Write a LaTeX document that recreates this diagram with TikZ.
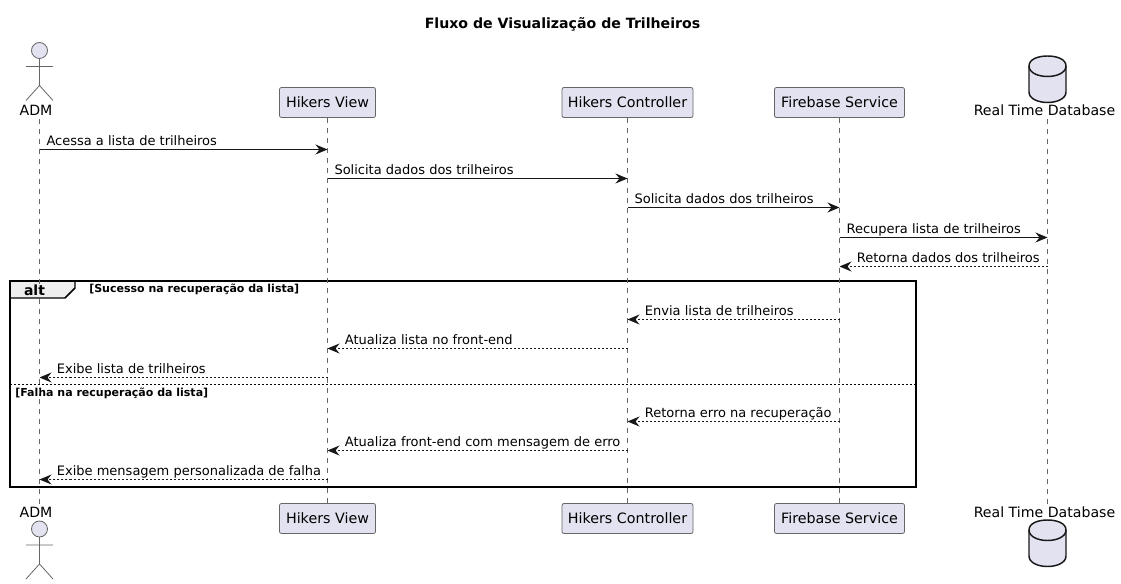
\documentclass[tikz,border=0pt]{standalone}
\usepackage{fontspec}
\setmainfont{DejaVu Sans}
\usetikzlibrary{arrows.meta,positioning}
\definecolor{partfill}{HTML}{E2E2F0}
\definecolor{partline}{HTML}{666666}
\definecolor{tabfill}{HTML}{EEEEEE}
\definecolor{inkline}{HTML}{181818}
\newcommand{\dbdrum}[1]{%
\draw [dbline,shift={(1047.5,#1)}] (-18.5,10) .. controls (-18.5,3) and (-9,0) .. (0,0)
	.. controls (9,0) and (18.5,3) .. (18.5,10) -- (18.5,36) .. controls (18.5,43) and (9,46.5) .. (0,46.5)
	.. controls (-9,46.5) and (-18.5,43) .. (-18.5,36) -- cycle;
\draw [dbrim,shift={(1047.5,#1)}] (-18.5,10) .. controls (-18.5,17) and (-9,20.5) .. (0,20.5)
	.. controls (9,20.5) and (18.5,17) .. (18.5,10);}
\newcommand{\stickman}[1]{%
\draw [manline,fill=partfill] (39.5,#1) circle (8);
\draw [manline] (39.5,#1+8) -- (39.5,#1+35) (26,#1+16) -- (53,#1+16)
	(26,#1+50) -- (39.5,#1+35) -- (53,#1+50);}

\begin{document}
\begin{tikzpicture}
   [x=0.75pt,y=-0.75pt,
	part/.style={rectangle,rounded corners=1.5pt,draw=partline,fill=partfill,line width=0.6pt,
		minimum height=22.5pt,inner sep=0pt,font=\fontsize{10.7}{12}\selectfont,text=black},
	caption/.style={inner sep=0pt,minimum height=12pt,font=\fontsize{10.6}{12}\selectfont,text=black},
	lifeline/.style={draw=partline,line width=0.5pt,dash pattern=on 3.75pt off 3.75pt},
	msg/.style={draw=inkline,line width=0.75pt,-{Stealth[length=9pt,width=7.5pt,inset=3pt]}},
	reply/.style={msg,dash pattern=on 1.5pt off 1.5pt},
	txtright/.style={anchor=base west,xshift=4.9pt,yshift=3.3pt,inner sep=0pt,
		font=\fontsize{9.75}{12}\selectfont,text=black},
	txtleft/.style={txtright,xshift=7.8pt},
	guard/.style={inner sep=0pt,anchor=base west,font=\fontsize{8.25}{10}\selectfont\bfseries,text=black},
	dbline/.style={draw=inkline,fill=partfill,line width=1.1pt},
	dbrim/.style={draw=inkline,line width=1.1pt},
	manline/.style={draw=partline,line width=0.6pt}]
\useasboundingbox (0,0) rectangle (1121,584);

\node [font=\fontsize{10.6}{12}\selectfont\bfseries] (title) at (562.5,24) {Fluxo de Visualização de Trilheiros};

% alt frame
\draw [fill=tabfill,line width=1.1pt,draw=black] (10,281) -- (75,281) -- (75,288) -- (65,298) -- (10,298) -- cycle;
\draw [line width=1.1pt,draw=black] (10,281) rectangle (916,487);
\draw [line width=0.75pt,dash pattern=on 1.5pt off 1.5pt] (10,385) -- (916,385);
\node [font=\fontsize{10.5}{12}\selectfont\bfseries] (alttag) at (34.5,290) {alt};
\node [guard] (guardok) at (89,293) {[Sucesso na recuperação da lista]};
\node [guard] (guardfail) at (15,397) {[Falha na recuperação da lista]};

% lifeline axes of the two figures without a box
\coordinate (admaxis) at (39.5,0);
\coordinate (dbaxis) at (1047.5,0);

% participants, top row
\node [caption] (admtop) at (36,110.5) {ADM};
\node [part,minimum width=72pt] (viewtop) at (327.5,102.5) {\raisebox{-2pt}{Hikers View}};
\node [part,minimum width=98.25pt] (ctrltop) at (627.5,102.5) {\raisebox{-2pt}{Hikers Controller}};
\node [part,minimum width=97.5pt] (firetop) at (839.5,102.5) {\raisebox{-2pt}{Firebase Service}};
\node [caption] (dbtop) at (1044.5,110.5) {Real Time Database};

% participants, bottom row
\node [caption] (admbot) at (36,512.5) {ADM};
\node [part,minimum width=72pt] (viewbot) at (327.5,518.5) {\raisebox{-2pt}{Hikers View}};
\node [part,minimum width=98.25pt] (ctrlbot) at (627.5,518.5) {\raisebox{-2pt}{Hikers Controller}};
\node [part,minimum width=97.5pt] (firebot) at (839.5,518.5) {\raisebox{-2pt}{Firebase Service}};
\node [caption] (dbbot) at (1044.5,512.5) {Real Time Database};

\stickman{50.5}
\stickman{529}
\dbdrum{56}
\dbdrum{520}

% lifelines
\draw [lifeline] (admaxis |- admtop.south) -- (admaxis |- admbot.north);
\draw [lifeline] (viewtop) -- (viewbot);
\draw [lifeline] (ctrltop) -- (ctrlbot);
\draw [lifeline] (firetop) -- (firebot);
\draw [lifeline] (dbaxis |- dbtop.south) -- (dbaxis |- dbbot.north);

% messages
\draw [msg] (admaxis |- 0,149.5) -- (viewtop |- 0,149.5) node [txtright,pos=0] (m1) {Acessa a lista de trilheiros};
\draw [msg] (viewtop |- 0,178.5) -- (ctrltop |- 0,178.5) node [txtright,pos=0] (m2) {Solicita dados dos trilheiros};
\draw [msg] (ctrltop |- 0,207.5) -- (firetop |- 0,207.5) node [txtright,pos=0] (m3) {Solicita dados dos trilheiros};
\draw [msg] (firetop |- 0,237.5) -- (dbaxis |- 0,237.5) node [txtright,pos=0] (m4) {Recupera lista de trilheiros};
\draw [reply] (dbaxis |- 0,266.5) -- (firetop |- 0,266.5) node [txtleft,pos=1] (m5) {Retorna dados dos trilheiros};
\draw [reply] (firetop |- 0,319.5) -- (ctrltop |- 0,319.5) node [txtleft,pos=1] (m6) {Envia lista de trilheiros};
\draw [reply] (ctrltop |- 0,348.5) -- (viewtop |- 0,348.5) node [txtleft,pos=1] (m7) {Atualiza lista no front-end};
\draw [reply] (viewtop |- 0,377.5) -- (admaxis |- 0,377.5) node [txtleft,pos=1] (m8) {Exibe lista de trilheiros};
\draw [reply] (firetop |- 0,421.5) -- (ctrltop |- 0,421.5) node [txtleft,pos=1] (m9) {Retorna erro na recuperação};
\draw [reply] (ctrltop |- 0,450.5) -- (viewtop |- 0,450.5) node [txtleft,pos=1] (m10) {Atualiza front-end com mensagem de erro};
\draw [reply] (viewtop |- 0,479.5) -- (admaxis |- 0,479.5) node [txtleft,pos=1] (m11) {Exibe mensagem personalizada de falha};
\end{tikzpicture}
\end{document}
